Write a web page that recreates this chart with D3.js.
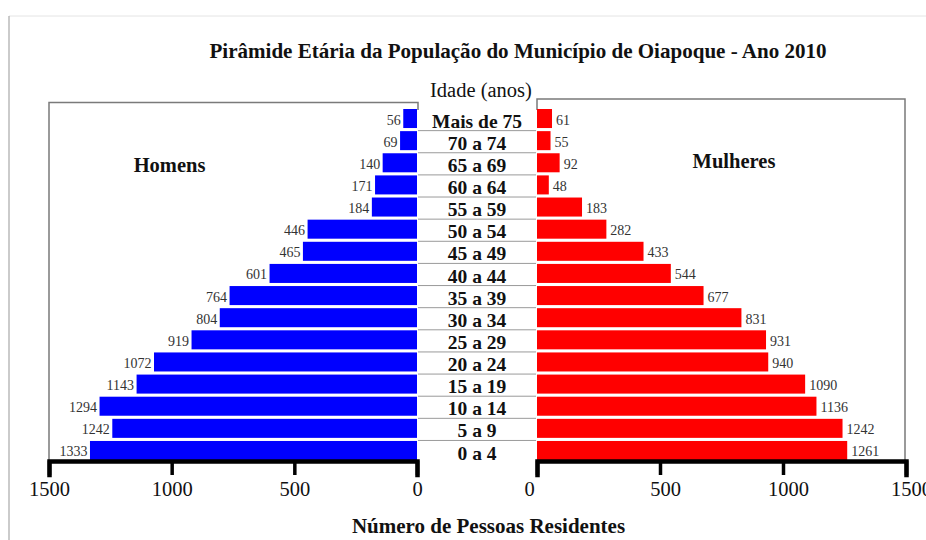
<!DOCTYPE html>
<html>
<head>
<meta charset="utf-8">
<script src="https://cdn.jsdelivr.net/npm/d3@7"></script>
<style>
  body { margin: 0; background: #fff; }
  svg { display: block; font-family: "Liberation Serif", "Times New Roman", serif; }
</style>
</head>
<body>
<svg width="926" height="540"></svg>
<script>
// Faixas etárias (de cima para baixo)
const ageGroups = [
    "Mais de 75", "70 a 74", "65 a 69", "60 a 64", "55 a 59", "50 a 54",
    "45 a 49", "40 a 44", "35 a 39", "30 a 34", "25 a 29", "20 a 24",
    "15 a 19", "10 a 14", "5 a 9", "0 a 4"
]

const men = [56, 69, 140, 171, 184, 446, 465, 601, 764, 804, 919, 1072, 1143, 1294, 1242, 1333]
const women = [61, 55, 92, 48, 183, 282, 433, 544, 677, 831, 931, 940, 1090, 1136, 1242, 1261]

const tickValues = [0, 500, 1000, 1500]

var svg = d3.select("svg");

// page border
svg.append("line")
    .attr("x1", 9).attr("x2", 926).attr("y1", 16).attr("y2", 16)
    .attr("stroke", "#e4e4e4").attr("stroke-width", 1);
svg.append("line")
    .attr("x1", 9).attr("x2", 9).attr("y1", 16).attr("y2", 540)
    .attr("stroke", "#a8a8a8").attr("stroke-width", 1.2);

// scales
var y = d3.scaleBand()
    .domain(ageGroups)
    .range([109, 460])
    .paddingInner(0.14)
    .paddingOuter(0);

var xLeft = d3.scaleLinear().domain([0, 1500]).range([417, 49]);
var xRight = d3.scaleLinear().domain([0, 1500]).range([537, 906]);

// frames
svg.append("path")
    .attr("d", `M${xLeft(1500)},461V102.5H${xLeft(0) + 1}V110`)
    .attr("fill", "none").attr("stroke", "#7a7a7a").attr("stroke-width", 1.5);
svg.append("path")
    .attr("d", `M${xRight(0)},110V99H${xRight(1500) - 1}V461`)
    .attr("fill", "none").attr("stroke", "#7a7a7a").attr("stroke-width", 1.5);

// separators between age labels
svg.append("g")
    .selectAll("line")
    .data(ageGroups.slice(1))
    .join("line")
    .attr("x1", xLeft(0) + 1).attr("x2", xRight(0) - 1)
    .attr("y1", d => y(d) - 0.5).attr("y2", d => y(d) - 0.5)
    .attr("stroke", "#9a9a9a").attr("stroke-width", 1);

// bars
svg.append("g")
    .selectAll("rect")
    .data(men)
    .join("rect")
    .attr("x", d => xLeft(d))
    .attr("y", (d, i) => y(ageGroups[i]))
    .attr("width", d => xLeft(0) - xLeft(d))
    .attr("height", y.bandwidth())
    .attr("fill", "#0000ff");

svg.append("g")
    .selectAll("rect")
    .data(women)
    .join("rect")
    .attr("x", xRight(0))
    .attr("y", (d, i) => y(ageGroups[i]))
    .attr("width", d => xRight(d) - xRight(0))
    .attr("height", y.bandwidth())
    .attr("fill", "#ff0000");

// value labels
svg.append("g")
    .selectAll("text")
    .data(men)
    .join("text")
    .attr("x", d => xLeft(d) - 2.5)
    .attr("y", (d, i) => y(ageGroups[i]) + y.bandwidth() / 2 + 6)
    .attr("text-anchor", "end")
    .attr("font-size", 14)
    .attr("fill", "#333")
    .text(d => d);

svg.append("g")
    .selectAll("text")
    .data(women)
    .join("text")
    .attr("x", d => xRight(d) + 4)
    .attr("y", (d, i) => y(ageGroups[i]) + y.bandwidth() / 2 + 6)
    .attr("font-size", 14)
    .attr("fill", "#333")
    .text(d => d);

// age labels
svg.append("g")
    .selectAll("text")
    .data(ageGroups)
    .join("text")
    .attr("x", 477)
    .attr("y", d => y(d) + y.step() - 3.5)
    .attr("text-anchor", "middle")
    .attr("font-size", 19.5)
    .attr("font-weight", "bold")
    .attr("fill", "#111")
    .text(d => d);

// axes
function styleAxis(g) {
    g.select(".domain").attr("stroke", "#000").attr("stroke-width", 4.5).attr("stroke-linecap", "square");
    g.selectAll(".tick line").attr("stroke", "#000").attr("stroke-width", 3.5);
    g.selectAll(".tick text")
        .attr("font-family", "Liberation Serif, Times New Roman, serif")
        .attr("font-size", 20.5)
        .attr("fill", "#111")
        .attr("dy", "0.35em")
        .attr("y", 28);
}

svg.append("g")
    .attr("transform", "translate(0,461)")
    .call(d3.axisBottom(xLeft).tickValues(tickValues).tickSizeOuter(0).tickSize(14).tickFormat(d3.format("d")))
    .call(styleAxis);

svg.append("g")
    .attr("transform", "translate(0,461)")
    .call(d3.axisBottom(xRight).tickValues(tickValues).tickSizeOuter(0).tickSize(14).tickFormat(d3.format("d")))
    .call(styleAxis)
    .selectAll(".tick text")
    .attr("dx", d => d === 0 ? -8 : 5);

// titles
svg.append("text")
    .attr("x", 518).attr("y", 58)
    .attr("text-anchor", "middle")
    .attr("font-size", 21)
    .attr("font-weight", "bold")
    .attr("fill", "#111")
    .attr("textLength", 617)
    .attr("lengthAdjust", "spacingAndGlyphs")
    .text("Pirâmide Etária da População do Município de Oiapoque - Ano 2010");

svg.append("text")
    .attr("x", 481).attr("y", 96.5)
    .attr("text-anchor", "middle")
    .attr("font-size", 20.5)
    .attr("fill", "#111")
    .text("Idade (anos)");

svg.append("text")
    .attr("x", 169.5).attr("y", 172)
    .attr("text-anchor", "middle")
    .attr("font-size", 20.5)
    .attr("font-weight", "bold")
    .attr("fill", "#111")
    .text("Homens");

svg.append("text")
    .attr("x", 734).attr("y", 167.5)
    .attr("text-anchor", "middle")
    .attr("font-size", 20.5)
    .attr("font-weight", "bold")
    .attr("fill", "#111")
    .text("Mulheres");

svg.append("text")
    .attr("x", 488.5).attr("y", 533)
    .attr("text-anchor", "middle")
    .attr("font-size", 21)
    .attr("font-weight", "bold")
    .attr("fill", "#111")
    .text("Número de Pessoas Residentes");
</script>
</body>
</html>
